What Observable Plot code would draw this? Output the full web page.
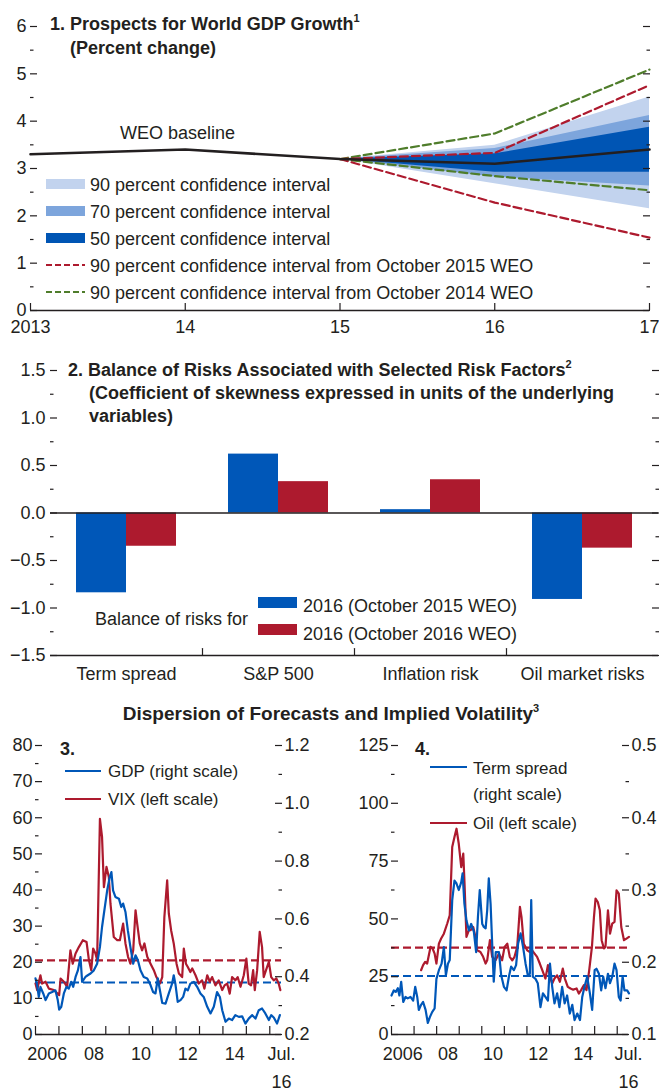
<!DOCTYPE html>
<html><head><meta charset="utf-8">
<script src="https://cdn.jsdelivr.net/npm/d3@7"></script>
<script src="https://cdn.jsdelivr.net/npm/@observablehq/plot@0.6"></script>
<style>
html,body{margin:0;padding:0;background:#fff;}
#root{position:relative;width:659px;height:1090px;overflow:hidden;font-family:"Liberation Sans",Arial,sans-serif;color:#231f20;}
.abs{position:absolute;white-space:nowrap;}
sup{font-size:11px;line-height:0;vertical-align:8px;}
</style></head><body><div id="root"></div>
<script>
// ---------------- DATA ----------------
// Panel 1
const p1Years = [2013, 2014, 2015, 2016, 2017];
const p1XLabels = ["2013", "14", "15", "16", "17"];
const p1Baseline = [3.3, 3.4, 3.2, 3.1, 3.4];
const p1FanYears = [2015, 2016, 2017];
const p1Lo90 = [3.2, 2.68, 2.15], p1Hi90 = [3.2, 3.49, 4.51];
const p1Lo70 = [3.2, 2.82, 2.63], p1Hi70 = [3.2, 3.42, 4.12];
const p1Lo50 = [3.2, 2.92, 2.92], p1Hi50 = [3.2, 3.31, 3.87];
const p1Oct15Lo = [3.2, 2.28, 1.54], p1Oct15Hi = [3.2, 3.33, 4.76];
const p1Oct14Lo = [3.2, 2.84, 2.54], p1Oct14Hi = [3.2, 3.74, 5.09];
const p1YMajor = [0, 1, 2, 3, 4, 5, 6];
const p1YMinor = [0.5, 1.5, 2.5, 3.5, 4.5, 5.5];
const p1Legend = ["90 percent confidence interval", "70 percent confidence interval", "50 percent confidence interval",
  "90 percent confidence interval from October 2015 WEO", "90 percent confidence interval from October 2014 WEO"];

// Panel 2
const p2Categories = ["Term spread", "S&P 500", "Inflation risk", "Oil market risks"];
const p2Series = ["2016 (October 2015 WEO)", "2016 (October 2016 WEO)"];
const p2Oct2015 = [-0.84, 0.62, 0.035, -0.91];
const p2Oct2016 = [-0.35, 0.33, 0.35, -0.37];
const p2YMajor = [-1.5, -1, -0.5, 0, 0.5, 1, 1.5];
const p2YLabels = ["\u22121.5", "\u22121.0", "\u22120.5", "0.0", "0.5", "1.0", "1.5"];
const p2YMinor = [-1.25, -0.75, -0.25, 0.25, 0.75, 1.25];

// Panel 3 (VIX left scale, GDP dispersion right scale)
const p3Vix = [[2006.00,14.1],[2006.07,12.3],[2006.21,16.4],[2006.28,14.1],[2006.43,14.6],[2006.57,12.7],[2006.78,12.3],[2007.01,10.9],[2007.07,15.5],[2007.21,14.6],[2007.35,13.2],[2007.49,23.3],[2007.59,19.6],[2007.71,22.4],[2007.85,24.2],[2008.02,26.1],[2008.18,25.6],[2008.28,20.6],[2008.38,17.8],[2008.46,23.8],[2008.56,22.4],[2008.63,20.6],[2008.75,59.7],[2008.84,54.7],[2008.92,40.8],[2009.03,46.4],[2009.13,43.6],[2009.20,36.2],[2009.34,27.0],[2009.49,26.1],[2009.60,26.1],[2009.74,30.7],[2009.84,25.2],[2009.95,21.5],[2010.05,19.6],[2010.17,23.3],[2010.27,34.4],[2010.34,30.7],[2010.45,25.2],[2010.55,23.3],[2010.65,25.2],[2010.77,21.5],[2010.91,19.6],[2011.05,17.8],[2011.16,15.9],[2011.31,14.1],[2011.41,15.9],[2011.50,32.5],[2011.62,42.7],[2011.69,33.5],[2011.79,28.8],[2011.90,25.2],[2012.02,19.6],[2012.12,16.9],[2012.26,15.9],[2012.33,23.8],[2012.42,19.6],[2012.50,18.7],[2012.61,17.3],[2012.69,18.3],[2012.83,16.4],[2012.97,14.1],[2013.11,15.0],[2013.21,12.7],[2013.33,16.4],[2013.44,14.6],[2013.54,15.9],[2013.68,13.6],[2013.82,15.0],[2013.97,12.3],[2014.07,13.6],[2014.18,14.1],[2014.29,11.3],[2014.39,15.9],[2014.53,15.0],[2014.63,15.9],[2014.75,13.2],[2014.89,16.4],[2015.00,21.0],[2015.10,14.1],[2015.20,13.6],[2015.29,17.8],[2015.36,12.3],[2015.46,17.8],[2015.57,28.4],[2015.67,24.2],[2015.74,15.9],[2015.84,17.8],[2015.96,20.1],[2016.06,15.9],[2016.17,15.0],[2016.28,15.5],[2016.38,14.1],[2016.45,12.3]];
const p3Gdp = [[2006.00,0.394],[2006.07,0.371],[2006.14,0.330],[2006.21,0.365],[2006.33,0.342],[2006.43,0.319],[2006.57,0.342],[2006.71,0.347],[2006.85,0.353],[2006.95,0.319],[2007.01,0.286],[2007.10,0.296],[2007.21,0.342],[2007.32,0.365],[2007.42,0.359],[2007.52,0.382],[2007.61,0.365],[2007.71,0.399],[2007.81,0.422],[2007.92,0.468],[2007.99,0.382],[2008.13,0.399],[2008.23,0.405],[2008.35,0.411],[2008.49,0.422],[2008.63,0.445],[2008.75,0.503],[2008.84,0.572],[2008.94,0.630],[2009.06,0.699],[2009.17,0.745],[2009.24,0.762],[2009.31,0.699],[2009.41,0.676],[2009.56,0.670],[2009.66,0.641],[2009.74,0.653],[2009.84,0.624],[2009.94,0.561],[2010.05,0.503],[2010.17,0.445],[2010.27,0.474],[2010.37,0.457],[2010.48,0.422],[2010.62,0.399],[2010.77,0.394],[2010.91,0.371],[2011.02,0.347],[2011.12,0.342],[2011.22,0.394],[2011.31,0.353],[2011.41,0.309],[2011.55,0.307],[2011.69,0.342],[2011.83,0.376],[2011.90,0.405],[2011.97,0.376],[2012.07,0.313],[2012.19,0.319],[2012.30,0.330],[2012.40,0.359],[2012.50,0.353],[2012.61,0.376],[2012.76,0.382],[2012.90,0.365],[2013.04,0.342],[2013.18,0.330],[2013.33,0.296],[2013.47,0.273],[2013.61,0.296],[2013.75,0.347],[2013.87,0.330],[2013.97,0.284],[2014.11,0.244],[2014.25,0.255],[2014.39,0.250],[2014.53,0.267],[2014.68,0.261],[2014.82,0.263],[2014.96,0.238],[2015.10,0.255],[2015.25,0.267],[2015.39,0.255],[2015.53,0.284],[2015.67,0.290],[2015.81,0.273],[2015.96,0.250],[2016.06,0.267],[2016.17,0.259],[2016.31,0.238],[2016.43,0.267]];
const p3VixAverage = 20.5;
const p3GdpAverage = 0.38;
const p3LeftDomain = [0, 80], p3RightDomain = [0.2, 1.2];
const p3LeftMajor = [0, 10, 20, 30, 40, 50, 60, 70, 80];
const p3LeftMinor = [5, 15, 25, 35, 45, 55, 65, 75];
const p3RightMajor = [0.2, 0.4, 0.6, 0.8, 1.0, 1.2];
const p3RightMinor = [0.3, 0.5, 0.7, 0.9, 1.1];
const p3RightLabels = ["0.2", "0.4", "0.6", "0.8", "1.0", "1.2"];

// Panel 4 (Oil left scale, Term spread right scale)
const p4Oil = [[2007.31,27.8],[2007.40,30.0],[2007.49,31.4],[2007.58,30.7],[2007.67,35.0],[2007.73,37.9],[2007.82,37.2],[2007.91,35.0],[2007.99,30.7],[2008.10,39.3],[2008.20,41.5],[2008.32,43.6],[2008.47,48.0],[2008.58,51.6],[2008.69,81.1],[2008.79,85.4],[2008.88,89.0],[2008.98,82.5],[2009.09,72.4],[2009.18,78.2],[2009.23,66.7],[2009.32,42.2],[2009.43,45.1],[2009.50,45.1],[2009.62,46.5],[2009.72,42.2],[2009.80,36.4],[2009.94,35.7],[2010.06,33.6],[2010.17,30.7],[2010.24,32.1],[2010.36,40.8],[2010.46,33.6],[2010.61,32.1],[2010.76,35.0],[2010.90,32.1],[2011.01,37.9],[2011.13,39.3],[2011.24,33.6],[2011.35,32.1],[2011.45,33.6],[2011.57,37.9],[2011.69,55.2],[2011.76,50.8],[2011.86,39.3],[2012.01,36.4],[2012.13,35.7],[2012.23,36.4],[2012.34,35.0],[2012.45,33.6],[2012.57,30.7],[2012.68,27.8],[2012.82,24.2],[2012.93,30.0],[2013.02,24.9],[2013.12,22.0],[2013.22,24.2],[2013.34,25.6],[2013.46,22.8],[2013.59,28.5],[2013.68,24.2],[2013.81,20.6],[2013.93,19.9],[2014.05,19.4],[2014.20,19.9],[2014.30,17.7],[2014.40,19.2],[2014.52,21.3],[2014.64,19.2],[2014.76,27.8],[2014.88,37.9],[2014.97,50.8],[2015.04,58.8],[2015.14,57.3],[2015.23,53.7],[2015.31,40.8],[2015.41,37.2],[2015.48,37.9],[2015.59,53.7],[2015.68,43.6],[2015.78,48.0],[2015.88,48.7],[2015.97,62.4],[2016.07,60.9],[2016.18,46.5],[2016.30,40.8],[2016.41,41.5],[2016.52,42.2]];
const p4Term = [[2006.00,0.154],[2006.10,0.161],[2006.19,0.159],[2006.28,0.164],[2006.35,0.154],[2006.43,0.173],[2006.52,0.145],[2006.62,0.152],[2006.72,0.150],[2006.84,0.152],[2006.96,0.147],[2007.05,0.166],[2007.14,0.152],[2007.21,0.134],[2007.31,0.141],[2007.40,0.145],[2007.51,0.134],[2007.61,0.116],[2007.70,0.124],[2007.80,0.131],[2007.91,0.136],[2007.99,0.177],[2008.10,0.189],[2008.22,0.198],[2008.32,0.221],[2008.41,0.182],[2008.50,0.198],[2008.58,0.203],[2008.69,0.286],[2008.79,0.313],[2008.88,0.309],[2008.98,0.300],[2009.09,0.311],[2009.15,0.323],[2009.23,0.281],[2009.32,0.258],[2009.43,0.244],[2009.53,0.253],[2009.65,0.242],[2009.75,0.214],[2009.83,0.263],[2009.91,0.300],[2010.02,0.253],[2010.09,0.249],[2010.17,0.247],[2010.24,0.272],[2010.31,0.316],[2010.39,0.281],[2010.46,0.226],[2010.53,0.173],[2010.62,0.214],[2010.76,0.214],[2010.86,0.182],[2010.98,0.166],[2011.10,0.161],[2011.20,0.180],[2011.30,0.194],[2011.42,0.189],[2011.52,0.196],[2011.61,0.226],[2011.72,0.240],[2011.83,0.221],[2011.94,0.198],[2012.04,0.182],[2012.13,0.184],[2012.19,0.286],[2012.26,0.180],[2012.38,0.177],[2012.48,0.171],[2012.60,0.138],[2012.71,0.157],[2012.82,0.152],[2012.93,0.147],[2013.02,0.198],[2013.12,0.166],[2013.22,0.143],[2013.34,0.157],[2013.44,0.138],[2013.56,0.166],[2013.67,0.143],[2013.78,0.154],[2013.90,0.129],[2014.01,0.141],[2014.11,0.120],[2014.23,0.129],[2014.35,0.120],[2014.45,0.152],[2014.55,0.166],[2014.67,0.180],[2014.79,0.157],[2014.89,0.134],[2015.00,0.189],[2015.08,0.191],[2015.19,0.184],[2015.29,0.161],[2015.38,0.180],[2015.48,0.164],[2015.59,0.184],[2015.68,0.171],[2015.78,0.180],[2015.88,0.198],[2015.97,0.189],[2016.07,0.152],[2016.15,0.147],[2016.24,0.180],[2016.32,0.161],[2016.44,0.161],[2016.52,0.157]];
const p4OilAverage = 37.6;
const p4TermAverage = 0.181;
const p4LeftDomain = [0, 125], p4RightDomain = [0.1, 0.5];
const p4LeftMajor = [0, 25, 50, 75, 100, 125];
const p4LeftMinor = [12.5, 37.5, 62.5, 87.5, 112.5];
const p4RightMajor = [0.1, 0.2, 0.3, 0.4, 0.5];
const p4RightMinor = [0.15, 0.25, 0.35, 0.45];
const p4RightLabels = ["0.1", "0.2", "0.3", "0.4", "0.5"];

// shared x for panels 3-4
const p34YearTicks = [2006, 2007, 2008, 2009, 2010, 2011, 2012, 2013, 2014, 2015, 2016];
const p34XLabelPos = [2006.5, 2008.5, 2010.5, 2012.5, 2014.5, 2016.5];
const p34XLabels = ["2006", "08", "10", "12", "14", "Jul.\n16"];
const p34XDomain = [2006, 2016.5];

// ---------------- STYLE ----------------
const FONT = '"Liberation Sans",Arial,sans-serif';
const INK = "#231f20";
const BLUE = "#0057b8";
const RED = "#ad1a2e";
const GREEN = "#4f7d2b";
const CI90 = "#c2d3ee", CI70 = "#7da5dc", CI50 = "#0055b4";
const FS = 18;
const TFS = 18;

const root = document.getElementById("root");
function put(node, left, top) {
  const w = document.createElement("div");
  w.className = "abs"; w.style.left = left + "px"; w.style.top = top + "px";
  w.appendChild(node); root.appendChild(w); return w;
}
function txt(html, x, yc, {fs = FS, bold = false, lh = 24, anchor = "start"} = {}) {
  const d = document.createElement("div");
  d.className = "abs"; d.innerHTML = html;
  d.style.fontSize = fs + "px"; d.style.lineHeight = lh + "px";
  d.style.top = (yc - lh / 2) + "px";
  d.style.left = x + "px";
  if (anchor === "middle") d.style.transform = "translateX(-50%)";
  if (bold) d.style.fontWeight = "bold";
  root.appendChild(d); return d;
}
function swRect(x, yc, w, h, color) {
  const d = document.createElement("div");
  d.className = "abs"; d.style.left = x + "px"; d.style.top = (yc - h / 2) + "px";
  d.style.width = w + "px"; d.style.height = h + "px"; d.style.background = color;
  root.appendChild(d);
}
function swLine(x, yc, w, color, dash) {
  const ns = "http://www.w3.org/2000/svg";
  const s = document.createElementNS(ns, "svg");
  s.setAttribute("width", w); s.setAttribute("height", 6);
  s.style.position = "absolute"; s.style.left = x + "px"; s.style.top = (yc - 3) + "px";
  const l = document.createElementNS(ns, "line");
  l.setAttribute("x1", 0); l.setAttribute("x2", w); l.setAttribute("y1", 3); l.setAttribute("y2", 3);
  l.setAttribute("stroke", color); l.setAttribute("stroke-width", 2.2);
  if (dash) l.setAttribute("stroke-dasharray", dash);
  s.appendChild(l); root.appendChild(s);
}
const blank = () => "";
function yTickMarks(anchor, major, minor, majorLen = 7, minorLen = 3.5) {
  const s = anchor === "left" ? 1 : -1;
  return [
    Plot.axisY({anchor, ticks: major, tickSize: majorLen, dx: s * majorLen, tickFormat: blank, strokeWidth: 1.2, label: null}),
    Plot.axisY({anchor, ticks: minor, tickSize: minorLen, dx: s * minorLen, tickFormat: blank, strokeWidth: 1.2, label: null})
  ];
}
const baseStyle = {fontFamily: FONT, fontSize: FS + "px", color: INK, background: "none", overflow: "visible"};

// ---------------- PANEL 1 ----------------
const fan = p1FanYears.map((year, i) => ({year, lo90: p1Lo90[i], hi90: p1Hi90[i], lo70: p1Lo70[i], hi70: p1Hi70[i], lo50: p1Lo50[i], hi50: p1Hi50[i],
  o15lo: p1Oct15Lo[i], o15hi: p1Oct15Hi[i], o14lo: p1Oct14Lo[i], o14hi: p1Oct14Hi[i]}));
const base = p1Years.map((year, i) => ({year, v: p1Baseline[i]}));
const dashOpt = {strokeWidth: 2.2, strokeDasharray: "8,4"};
const p1 = Plot.plot({
  width: 659, height: 340, marginLeft: 30, marginRight: 10, marginTop: 26, marginBottom: 30,
  style: baseStyle,
  x: {domain: [2013, 2017], label: null},
  y: {domain: [0, 6], label: null},
  marks: [
    Plot.areaY(fan, {x: "year", y1: "lo90", y2: "hi90", fill: CI90}),
    Plot.areaY(fan, {x: "year", y1: "lo70", y2: "hi70", fill: CI70}),
    Plot.areaY(fan, {x: "year", y1: "lo50", y2: "hi50", fill: CI50}),
    Plot.line(fan, {x: "year", y: "o14hi", stroke: GREEN, ...dashOpt}),
    Plot.line(fan, {x: "year", y: "o14lo", stroke: GREEN, ...dashOpt}),
    Plot.line(fan, {x: "year", y: "o15hi", stroke: RED, ...dashOpt}),
    Plot.line(fan, {x: "year", y: "o15lo", stroke: RED, ...dashOpt}),
    Plot.line(base, {x: "year", y: "v", stroke: INK, strokeWidth: 2.6}),
    Plot.ruleY([0], {stroke: INK, strokeWidth: 1.5}),
    Plot.axisY({anchor: "left", ticks: p1YMajor, tickSize: 0, tickPadding: 4, tickFormat: d => String(d), label: null}),
    ...yTickMarks("left", p1YMajor, p1YMinor),
    ...yTickMarks("right", p1YMajor, p1YMinor),
    Plot.axisX({ticks: p1Years, tickSize: 7, dy: -7, tickFormat: blank, strokeWidth: 1.2, label: null}),
    Plot.axisX({ticks: p1Years, tickSize: 0, tickPadding: 10, tickFormat: d => p1XLabels[p1Years.indexOf(d)], label: null})
  ]
});
put(p1, 0, 0);
txt("1. Prospects for World GDP Growth<sup>1</sup>", 50, 24, {bold: true, fs: TFS});
txt("(Percent change)", 70, 48, {bold: true, fs: TFS});
txt("WEO baseline", 120, 133);
const legY = [185, 212, 239, 266, 293];
swRect(46, legY[0] - 1, 39, 10, CI90);
swRect(46, legY[1] - 1, 39, 10, CI70);
swRect(46, legY[2] - 1, 39, 10, CI50);
swLine(46, legY[3] - 1, 39, RED, "6,3");
swLine(46, legY[4] - 1, 39, GREEN, "6,3");
p1Legend.forEach((t, i) => txt(t, 90, legY[i]));

// ---------------- PANEL 2 ----------------
const bars = [];
p2Categories.forEach((c, i) => {
  bars.push({cat: c, series: p2Series[0], v: p2Oct2015[i]});
  bars.push({cat: c, series: p2Series[1], v: p2Oct2016[i]});
});
const tickUp = {draw(ctx, l) { ctx.moveTo(0, 0); ctx.lineTo(0, -l); }};
const p2 = Plot.plot({
  width: 659, height: 345, marginLeft: 48, marginRight: 0, marginTop: 20, marginBottom: 40,
  style: baseStyle,
  fx: {domain: p2Categories, padding: 0, label: null},
  x: {domain: p2Series, paddingInner: 0, paddingOuter: 0.5, axis: null},
  y: {domain: [-1.5, 1.5], label: null},
  color: {domain: p2Series, range: [BLUE, RED]},
  marks: [
    Plot.barY(bars, {fx: "cat", x: "series", y: "v", fill: "series"}),
    Plot.ruleY([0], {stroke: INK, strokeWidth: 1.5}),
    Plot.ruleY([-1.5], {stroke: INK, strokeWidth: 1.5}),
    Plot.vector(p2Categories.slice(1), {fx: d => d, frameAnchor: "bottom-left", length: 7, rotate: 0, anchor: "start", shape: tickUp, stroke: INK, strokeWidth: 1.2}),
    Plot.axisY({anchor: "left", ticks: p2YMajor, tickSize: 0, tickPadding: 5, tickFormat: d => p2YLabels[p2YMajor.indexOf(d)], label: null}),
    ...yTickMarks("left", p2YMajor, p2YMinor),
    ...yTickMarks("right", p2YMajor, p2YMinor),
    Plot.axisFx({anchor: "bottom", tickSize: 0, tickPadding: 12, label: null})
  ]
});
put(p2, 0, 350);
txt("2. Balance of Risks Associated with Selected Risk Factors<sup>2</sup>", 68, 370, {bold: true, fs: TFS});
txt("(Coefficient of skewness expressed in units of the underlying", 89, 393, {bold: true, fs: TFS});
txt("variables)", 89, 416, {bold: true, fs: TFS});
txt("Balance of risks for", 95, 619);
swRect(258, 602, 39, 11, BLUE);
swRect(258, 629, 39, 11, RED);
txt(p2Series[0], 303, 606);
txt(p2Series[1], 303, 634);

// ---------------- HEADER for 3-4 ----------------
txt("Dispersion of Forecasts and Implied Volatility<sup>3</sup>", 331, 714, {bold: true, anchor: "middle", fs: 19});

// ---------------- PANELS 3 & 4 ----------------
function dualPanel({width, marginLeft, marginRight, leftSeries, rightSeries, leftAvg, rightAvg, leftDomain, rightDomain,
  leftMajor, leftMinor, rightMajor, rightMinor, rightLabels}) {
  const r2l = d3.scaleLinear().domain(rightDomain).range(leftDomain);
  const L = leftSeries.map(([t, v]) => ({t, v}));
  const R = rightSeries.map(([t, v]) => ({t, v: r2l(v)}));
  const rMajor = rightMajor.map(r2l), rMinor = rightMinor.map(r2l);
  return Plot.plot({
    width, height: 360, marginLeft, marginRight, marginTop: 15, marginBottom: 56,
    style: baseStyle,
    x: {domain: p34XDomain, label: null},
    y: {domain: leftDomain, label: null},
    marks: [
      Plot.ruleY([leftAvg], {stroke: RED, strokeWidth: 2.2, strokeDasharray: "8,4"}),
      Plot.ruleY([r2l(rightAvg)], {stroke: BLUE, strokeWidth: 2.2, strokeDasharray: "8,4"}),
      Plot.line(L, {x: "t", y: "v", stroke: RED, strokeWidth: 2.2}),
      Plot.line(R, {x: "t", y: "v", stroke: BLUE, strokeWidth: 2.2}),
      Plot.ruleY([leftDomain[0]], {x1: p34XDomain[0], x2: p34XDomain[1], stroke: INK, strokeWidth: 1.5}),
      Plot.axisX({ticks: p34YearTicks, tickSize: 8, dy: -8, tickFormat: blank, strokeWidth: 1.2, label: null}),
      Plot.text(p34XLabelPos, {x: d => d, text: (d, i) => p34XLabels[i], frameAnchor: "bottom", lineAnchor: "top", dy: 6, lineHeight: 1.55, fontSize: FS}),
      Plot.axisY({anchor: "left", ticks: leftMajor, tickSize: 0, tickPadding: 3, tickFormat: d => String(d), label: null}),
      ...yTickMarks("left", leftMajor, leftMinor),
      Plot.axisY({anchor: "right", ticks: rMajor, tickSize: 0, tickPadding: 3, tickFormat: d => rightLabels[rMajor.indexOf(d)], label: null}),
      ...yTickMarks("right", rMajor, rMinor)
    ]
  });
}
const p3 = dualPanel({width: 330, marginLeft: 35, marginRight: 49, leftSeries: p3Vix, rightSeries: p3Gdp,
  leftAvg: p3VixAverage, rightAvg: p3GdpAverage, leftDomain: p3LeftDomain, rightDomain: p3RightDomain,
  leftMajor: p3LeftMajor, leftMinor: p3LeftMinor, rightMajor: p3RightMajor, rightMinor: p3RightMinor, rightLabels: p3RightLabels});
put(p3, 0, 730);
const p4 = dualPanel({width: 329, marginLeft: 61, marginRight: 31, leftSeries: p4Oil, rightSeries: p4Term,
  leftAvg: p4OilAverage, rightAvg: p4TermAverage, leftDomain: p4LeftDomain, rightDomain: p4RightDomain,
  leftMajor: p4LeftMajor, leftMinor: p4LeftMinor, rightMajor: p4RightMajor, rightMinor: p4RightMinor, rightLabels: p4RightLabels});
put(p4, 330, 730);

txt("3.", 60, 749, {bold: true, fs: TFS});
swLine(65, 771, 36, BLUE);
txt("GDP (right scale)", 108, 772, {fs: 17});
swLine(65, 799, 36, RED);
txt("VIX (left scale)", 108, 800, {fs: 17});
txt("4.", 415, 749, {bold: true, fs: TFS});
swLine(430, 767, 37, BLUE);
txt("Term spread", 473, 769, {fs: 17});
txt("(right scale)", 473, 795, {fs: 17});
swLine(430, 823, 37, RED);
txt("Oil (left scale)", 473, 824, {fs: 17});
</script></body></html>
